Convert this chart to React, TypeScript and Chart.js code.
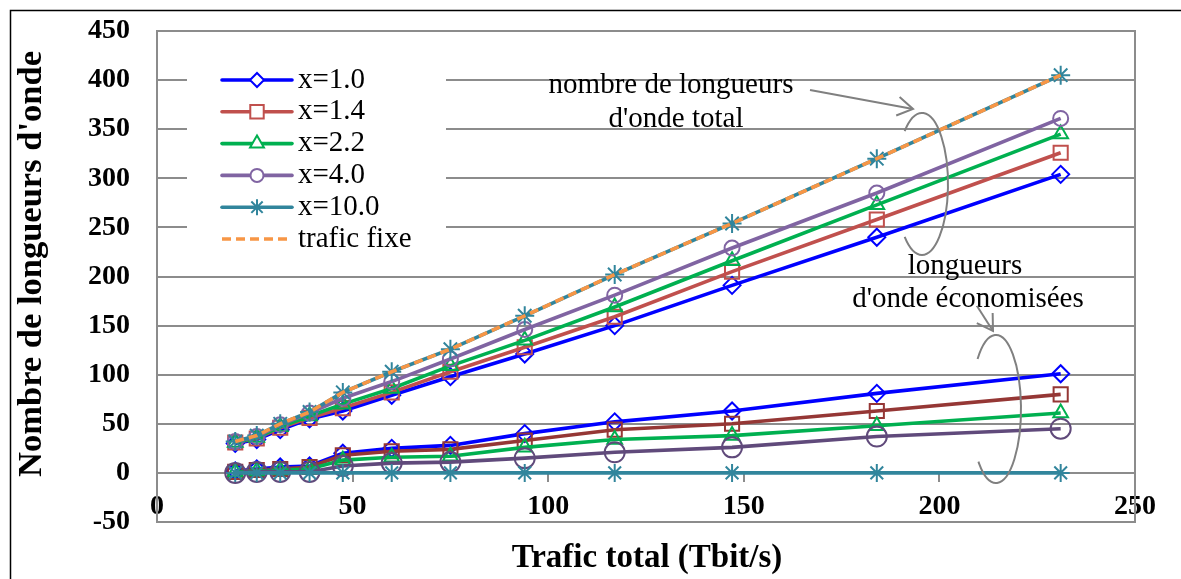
import React, { useEffect, useRef } from 'react';
import { Chart, registerables } from 'chart.js';
import { drawPoint } from 'chart.js/helpers';

Chart.register(...registerables);

// ---------- data ----------
const traffic = [20, 25.5, 31.5, 39, 47.5, 60, 75, 94, 117, 147, 184, 231];

const totalX1_0 = [30, 34, 44, 55, 63, 79, 98, 121, 150, 191, 240, 304];
const totalX1_4 = [31, 35, 46, 56, 66, 82, 103, 128, 159, 205, 258, 326];
const totalX2_2 = [31, 36, 47, 58, 70, 86, 109, 135, 169, 216, 273, 345];
const totalX4_0 = [32, 37, 49, 61, 76, 93, 116, 146, 181, 229, 285, 361];
const totalX10_0 = [32, 38, 50, 62, 82, 103, 126, 160, 202, 254, 320, 405];
const totalFixed = [32, 38, 50, 62, 82, 103, 126, 160, 202, 254, 320, 405];

const savedX1_0 = [2, 4, 6, 7, 20, 25, 28, 40, 52, 63, 81, 101];
const savedX1_4 = [1, 3, 4, 6, 18, 22, 24, 33, 44, 50, 63, 80];
const savedX2_2 = [1, 2, 3, 4, 13, 16, 17, 26, 34, 38, 48, 61];
const savedX4_0 = [0, 1, 1, 1, 7, 10, 11, 15, 21, 26, 37, 45];
const savedX10_0 = [0, 0, 0, 0, 0, 0, 0, 0, 0, 0, 0, 0];

const legendLabels = ['x=1.0', 'x=1.4', 'x=2.2', 'x=4.0', 'x=10.0', 'trafic fixe'];
const yTitle = "Nombre de longueurs d'onde";
const xTitle = 'Trafic total (Tbit/s)';
const noteTotal = ['nombre de longueurs', "d'onde total"];
const noteSaved = ['longueurs', "d'onde économisées"];

// ---------- styles ----------
const SERIF = '"Liberation Serif", "Times New Roman", serif';
const GRID = '#8c8c8c';
const ANNO = '#808080';
const BLUE = '#0000ff';
const RED = '#c0504d';
const RED_D = '#953735';
const GREEN = '#00b050';
const PURPLE = '#8064a2';
const PURPLE_D = '#604a7b';
const TEAL = '#31859c';
const ORANGE = '#f79646';

const pts = (ys: number[]) => traffic.map((x, i) => ({ x, y: ys[i] }));

function series(label: string, ys: number[], color: string, style: string, radius: number, order: number, extra: any = {}) {
  return {
    label,
    data: pts(ys),
    borderColor: color,
    backgroundColor: color,
    borderWidth: 3.6,
    pointStyle: style,
    pointRadius: radius,
    pointHoverRadius: radius,
    pointBorderColor: color,
    pointBackgroundColor: 'rgba(0,0,0,0)',
    pointBorderWidth: 2,
    tension: 0,
    order,
    ...extra,
  };
}

const legendEntries = [
  { label: legendLabels[0], color: BLUE, style: 'rectRot', radius: 7 },
  { label: legendLabels[1], color: RED, style: 'rect', radius: 9.5 },
  { label: legendLabels[2], color: GREEN, style: 'triangle', radius: 8 },
  { label: legendLabels[3], color: PURPLE, style: 'circle', radius: 6.5 },
  { label: legendLabels[4], color: TEAL, style: 'star', radius: 8 },
  { label: legendLabels[5], color: ORANGE, style: false as any, radius: 0, dash: [9, 5] },
];

const decorPlugin = {
  id: 'decor',
  beforeDraw(chart: any) {
    const ctx = chart.ctx;
    ctx.save();
    ctx.fillStyle = '#ffffff';
    ctx.fillRect(0, 0, chart.width, chart.height);
    ctx.restore();
  },
  beforeDatasetsDraw(chart: any) {
    const { ctx, chartArea: a } = chart;
    ctx.save();
    ctx.strokeStyle = GRID;
    ctx.lineWidth = 2;
    ctx.strokeRect(Math.round(a.left), Math.round(a.top), Math.round(a.right - a.left), Math.round(a.bottom - a.top));
    ctx.restore();
  },
  afterDraw(chart: any) {
    const ctx = chart.ctx;
    ctx.save();

    // outer border
    ctx.strokeStyle = '#000';
    ctx.lineWidth = 1.5;
    ctx.strokeRect(10.5, 10.5, 1400, 800);

    // legend
    ctx.fillStyle = '#fff';
    ctx.fillRect(187, 37, 259, 228);
    const rowY0 = 80;
    const rowH = 31.8;
    legendEntries.forEach((e, i) => {
      const y = rowY0 + i * rowH;
      ctx.save();
      ctx.strokeStyle = e.color;
      ctx.lineWidth = 3.6;
      ctx.lineCap = e.dash ? 'butt' : 'round';
      if (e.dash) ctx.setLineDash(e.dash);
      ctx.beginPath();
      ctx.moveTo(222, y);
      ctx.lineTo(292, y);
      ctx.stroke();
      ctx.restore();
      if (e.style) {
        ctx.save();
        ctx.strokeStyle = e.color;
        ctx.fillStyle = '#ffffff';
        ctx.lineWidth = 2;
        drawPoint(ctx, { pointStyle: e.style, radius: e.radius, rotation: 0, borderWidth: 2 } as any, 257, y);
        ctx.restore();
      }
      ctx.fillStyle = '#000';
      ctx.font = `29px ${SERIF}`;
      ctx.textAlign = 'left';
      ctx.textBaseline = 'middle';
      ctx.fillText(e.label, 298, y);
    });

    // axis titles
    ctx.fillStyle = '#000';
    ctx.textAlign = 'center';
    ctx.textBaseline = 'middle';
    ctx.font = `bold 33px ${SERIF}`;
    ctx.fillText(xTitle, 647, 558);
    ctx.save();
    ctx.font = `bold 34.5px ${SERIF}`;
    ctx.translate(32, 264);
    ctx.rotate(-Math.PI / 2);
    ctx.fillText(yTitle, 0, 0);
    ctx.restore();

    // annotations
    ctx.font = `29px ${SERIF}`;
    ctx.fillStyle = '#000';
    ctx.fillText(noteTotal[0], 671, 85);
    ctx.fillText(noteTotal[1], 676, 119);
    ctx.fillText(noteSaved[0], 965, 266);
    ctx.fillText(noteSaved[1], 968, 299);

    ctx.strokeStyle = ANNO;
    ctx.lineWidth = 2;
    const arrow = (x1: number, y1: number, x2: number, y2: number) => {
      ctx.beginPath();
      ctx.moveTo(x1, y1);
      ctx.lineTo(x2, y2);
      ctx.stroke();
      const ang = Math.atan2(y2 - y1, x2 - x1);
      const L = 18;
      const spread = 0.55;
      ctx.beginPath();
      ctx.moveTo(x2 - L * Math.cos(ang - spread), y2 - L * Math.sin(ang - spread));
      ctx.lineTo(x2, y2);
      ctx.lineTo(x2 - L * Math.cos(ang + spread), y2 - L * Math.sin(ang + spread));
      ctx.stroke();
    };
    arrow(810, 90, 913, 109);
    arrow(977, 306, 993, 331);

    ctx.beginPath();
    ctx.ellipse(922, 184, 26, 71, 0, -2.3, 2.3, false);
    ctx.stroke();
    ctx.beginPath();
    ctx.ellipse(996, 409, 25, 74, 0, -2.4, 2.35, false);
    ctx.stroke();

    ctx.restore();
  },
};

export default function App() {
  const ref = useRef<HTMLCanvasElement | null>(null);

  useEffect(() => {
    if (!ref.current) return;
    const datasets: any[] = [
      series('x=1.0', totalX1_0, BLUE, 'rectRot', 8.5, 10),
      series('x=1.4', totalX1_4, RED, 'rect', 10, 9),
      series('x=2.2', totalX2_2, GREEN, 'triangle', 8.5, 8),
      series('x=4.0', totalX4_0, PURPLE, 'circle', 7.5, 7),
      series('x=10.0', totalX10_0, TEAL, 'star', 9.5, 6),
      series('trafic fixe', totalFixed, ORANGE, false as any, 0, 0, { borderDash: [9, 5], pointRadius: 0 }),
      series('x=1.0 économisées', savedX1_0, BLUE, 'rectRot', 8.5, 5),
      series('x=1.4 économisées', savedX1_4, RED_D, 'rect', 10, 4),
      series('x=2.2 économisées', savedX2_2, GREEN, 'triangle', 8.5, 3),
      series('x=4.0 économisées', savedX4_0, PURPLE_D, 'circle', 10, 2),
      series('x=10.0 économisées', savedX10_0, TEAL, 'star', 9, 1),
    ];
    const chart = new Chart(ref.current, {
      type: 'line',
      data: { datasets },
      options: {
        responsive: false,
        animation: false,
        devicePixelRatio: 1,
        layout: { padding: { top: 31, right: 46, bottom: 57, left: 0 } },
        plugins: { legend: { display: false }, tooltip: { enabled: false } },
        scales: {
          x: {
            type: 'linear',
            min: 0,
            max: 250,
            position: { y: 0 } as any,
            afterFit: (s: any) => {
              s.height = 0;
            },
            ticks: {
              stepSize: 50,
              color: '#000',
              font: { family: SERIF, size: 28, weight: 'bold' },
              padding: 9,
              maxRotation: 0,
              autoSkip: false,
            },
            grid: { drawOnChartArea: false, drawTicks: true, tickLength: 8, color: GRID, lineWidth: 2 },
            border: { display: true, color: GRID, width: 2 },
          },
          y: {
            type: 'linear',
            min: -50,
            max: 450,
            position: 'left',
            afterFit: (s: any) => {
              s.width = 157;
            },
            ticks: {
              stepSize: 50,
              color: '#000',
              font: { family: SERIF, size: 28, weight: 'bold' },
              padding: 0,
            },
            grid: { color: GRID, lineWidth: 2, drawTicks: true, tickLength: 27, tickColor: 'rgba(0,0,0,0)' },
            border: { display: true, color: GRID, width: 2 },
          },
        },
      } as any,
      plugins: [decorPlugin],
    });
    return () => chart.destroy();
  }, []);

  return (
    <div style={{ position: 'absolute', left: 0, top: 0, width: 1181, height: 579 }}>
      <canvas ref={ref} width={1181} height={579} style={{ display: 'block', width: 1181, height: 579 }} />
    </div>
  );
}
